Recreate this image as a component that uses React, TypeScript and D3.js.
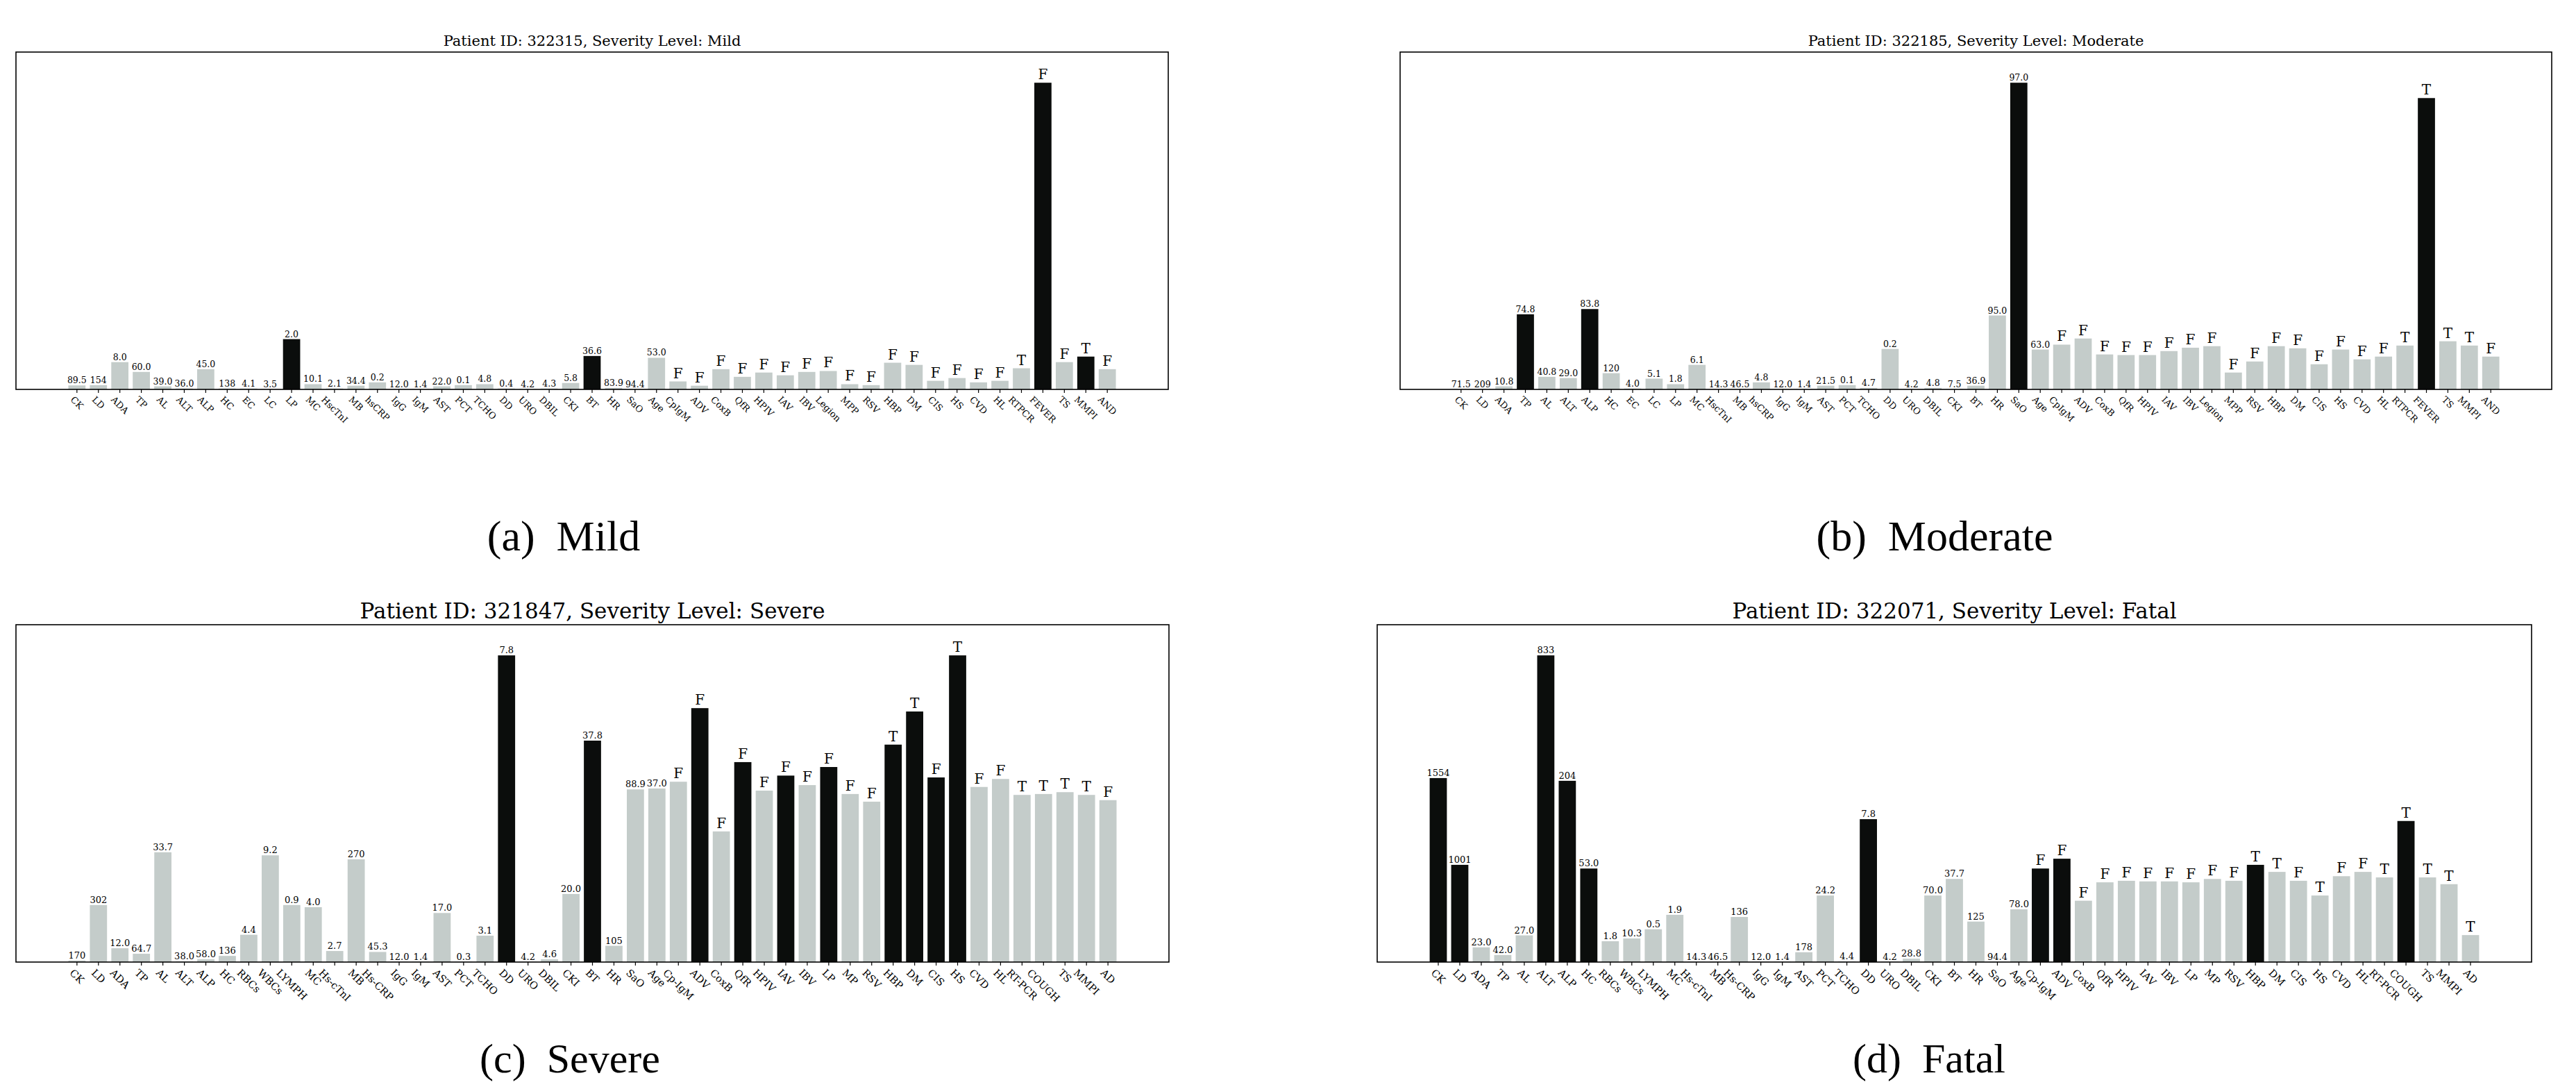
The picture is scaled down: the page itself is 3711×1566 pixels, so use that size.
import React, { useEffect } from 'react';
import * as d3 from 'd3';

const W = 3711;
const H = 1566;

const namesAB = ["CK","LD","ADA","TP","AL","ALT","ALP","HC","EC","LC","LP","MC","HscTnI","MB","hsCRP","IgG","IgM","AST","PCT","TCHO","DD","URO","DBIL","CKI","BT","HR","SaO","Age","CpIgM","ADV","CoxB","QfR","HPIV","IAV","IBV","Legion","MPP","RSV","HBP","DM","CIS","HS","CVD","HL","RTPCR","FEVER","TS","MMPI","AND"];
const namesCD = ["CK","LD","ADA","TP","AL","ALT","ALP","HC","RBCs","WBCs","LYMPH","MC","Hs-cTnI","MB","Hs-CRP","IgG","IgM","AST","PCT","TCHO","DD","URO","DBIL","CKI","BT","HR","SaO","Age","Cp-IgM","ADV","CoxB","QfR","HPIV","IAV","IBV","LP","MP","RSV","HBP","DM","CIS","HS","CVD","HL","RT-PCR","COUGH","TS","MMPI","AD"];

// Mild
const mildHeights = [0.013,0.014,0.089,0.057,0.010,0.003,0.066,0.003,0.003,0.001,0.164,0.017,0.003,0.012,0.023,0.001,0.001,0.010,0.014,0.017,0.003,0.001,0.003,0.021,0.109,0.005,0.001,0.103,0.026,0.012,0.066,0.041,0.055,0.046,0.057,0.060,0.017,0.014,0.087,0.080,0.028,0.037,0.023,0.028,0.069,1.0,0.089,0.107,0.066];
const mildTexts = ["89.5","154","8.0","60.0","39.0","36.0","45.0","138","4.1","3.5","2.0","10.1","2.1","34.4","0.2","12.0","1.4","22.0","0.1","4.8","0.4","4.2","4.3","5.8","36.6","83.9","94.4","53.0","F","F","F","F","F","F","F","F","F","F","F","F","F","F","F","F","T","F","F","T","F"];
const mildDark = [10, 24, 45, 47];

// Moderate
const modHeights = [0.001,0.001,0.010,0.245,0.041,0.037,0.262,0.053,0.003,0.035,0.017,0.080,0.001,0.001,0.023,0.001,0.001,0.012,0.014,0.005,0.132,0.001,0.005,0.001,0.012,0.241,1.0,0.130,0.146,0.166,0.114,0.112,0.112,0.125,0.136,0.141,0.055,0.091,0.141,0.134,0.082,0.130,0.098,0.107,0.143,0.950,0.157,0.143,0.107];
const modTexts = ["71.5","209","10.8","74.8","40.8","29.0","83.8","120","4.0","5.1","1.8","6.1","14.3","46.5","4.8","12.0","1.4","21.5","0.1","4.7","0.2","4.2","4.8","7.5","36.9","95.0","97.0","63.0","F","F","F","F","F","F","F","F","F","F","F","F","F","F","F","F","T","T","T","T","F"];
const modDark = [3, 6, 26, 45];

// Severe
const sevHeights = [0.005,0.186,0.045,0.027,0.358,0.002,0.009,0.020,0.089,0.348,0.186,0.179,0.036,0.335,0.033,0.001,0.001,0.160,0.001,0.086,1.0,0.001,0.009,0.222,0.722,0.053,0.563,0.566,0.588,0.828,0.426,0.652,0.559,0.608,0.577,0.636,0.548,0.523,0.709,0.817,0.602,1.0,0.571,0.597,0.545,0.548,0.554,0.545,0.528];
const sevTexts = ["170","302","12.0","64.7","33.7","38.0","58.0","136","4.4","9.2","0.9","4.0","2.7","270","45.3","12.0","1.4","17.0","0.3","3.1","7.8","4.2","4.6","20.0","37.8","105","88.9","37.0","F","F","F","F","F","F","F","F","F","F","T","T","F","T","F","F","T","T","T","T","F"];
const sevDark = [20, 24, 29, 31, 33, 35, 38, 39, 40, 41];

// Fatal
const fatHeights = [0.600,0.317,0.048,0.023,0.087,1.0,0.591,0.305,0.068,0.077,0.107,0.154,0.001,0.001,0.147,0.001,0.001,0.032,0.217,0.002,0.466,0.001,0.011,0.217,0.271,0.132,0.001,0.172,0.305,0.337,0.200,0.260,0.265,0.263,0.263,0.260,0.271,0.265,0.317,0.294,0.265,0.217,0.280,0.294,0.276,0.460,0.276,0.254,0.088];
const fatTexts = ["1554","1001","23.0","42.0","27.0","833","204","53.0","1.8","10.3","0.5","1.9","14.3","46.5","136","12.0","1.4","178","24.2","4.4","7.8","4.2","28.8","70.0","37.7","125","94.4","78.0","F","F","F","F","F","F","F","F","F","F","T","T","F","T","F","F","T","T","T","T","T"];
const fatDark = [0, 1, 5, 6, 7, 20, 28, 29, 38, 45];

const GREY = '#c4ccca';
const DARK = '#0b0d0c';
const SERIF = '"DejaVu Serif", serif';

let ctx: CanvasRenderingContext2D | null = null;
function measure(text: string, size: number): number {
  if (!ctx) ctx = document.createElement('canvas').getContext('2d');
  if (!ctx) return text.length * size * 0.6;
  ctx.font = `${size}px "DejaVu Serif"`;
  return ctx.measureText(text).width;
}

type Frame = { x: number; y: number; w: number; h: number };

function Panel(props: {
  frame: Frame; names: string[]; heights: number[]; texts: string[]; dark: number[];
  title: string; titleSize: number; numSize: number; flagSize: number; tickSize: number;
  caption: string; capX: number; capY: number; capSize: number;
}) {
  const { frame, names, heights, texts, dark, title, titleSize, numSize, flagSize, tickSize, caption, capX, capY, capSize } = props;
  const n = names.length;
  const margin = 0.05 * (n - 1 + 0.8);
  const x = d3.scaleLinear().domain([-0.4 - margin, n - 1 + 0.4 + margin]).range([frame.x, frame.x + frame.w]);
  const ymax = (d3.max(heights) as number) * 1.1;
  const y = d3.scaleLinear().domain([0, ymax]).range([frame.y + frame.h, frame.y]);
  const axisY = frame.y + frame.h;
  const darkSet = new Set(dark);
  return (
    <g>
      <text x={frame.x + frame.w / 2} y={frame.y - 9} textAnchor="middle" fontFamily={SERIF} fontSize={titleSize} fill="#000">{title}</text>
      {heights.map((h, i) => (
        <rect key={'b' + i} x={x(i - 0.4)} y={y(h)} width={x(i + 0.4) - x(i - 0.4)} height={axisY - y(h)} fill={darkSet.has(i) ? DARK : GREY} />
      ))}
      {texts.map((t, i) => {
        const flag = t === 'T' || t === 'F';
        return (
          <text key={'v' + i} x={x(i)} y={y(heights[i]) - (flag ? 5 : 3)} textAnchor="middle" fontFamily={SERIF} fontSize={flag ? flagSize : numSize} fill="#000">{t}</text>
        );
      })}
      {names.map((nm, i) => (
        <line key={'t' + i} x1={x(i)} x2={x(i)} y1={axisY} y2={axisY + 5} stroke="#000" strokeWidth={1.2} />
      ))}
      {names.map((nm, i) => {
        const w = measure(nm, tickSize);
        const hh = tickSize * 1.16;
        const d = (w + hh) / Math.SQRT2;
        const cy = axisY + 7 + d / 2;
        return (
          <text key={'l' + i} transform={`translate(${x(i)},${cy}) rotate(45)`} textAnchor="middle" dominantBaseline="central" fontFamily={SERIF} fontSize={tickSize} fill="#000">{nm}</text>
        );
      })}
      <rect x={frame.x} y={frame.y} width={frame.w} height={frame.h} fill="none" stroke="#000" strokeWidth={1.6} />
      <text x={capX} y={capY} textAnchor="middle" fontFamily='"Liberation Serif", "Times New Roman", serif' fontSize={capSize} fill="#000" style={{ whiteSpace: 'pre' }}>{caption}</text>
    </g>
  );
}

export default function App() {
  useEffect(() => {
    document.body.style.margin = '0';
    document.body.style.overflow = 'hidden';
  }, []);
  return (
    <svg width={W} height={H} viewBox={`0 0 ${W} ${H}`} style={{ position: 'absolute', left: 0, top: 0, display: 'block', background: '#fff' }}>
      <rect x={0} y={0} width={W} height={H} fill="#fff" />
      <Panel frame={{ x: 23, y: 75, w: 1660, h: 486 }} names={namesAB} heights={mildHeights} texts={mildTexts} dark={mildDark}
        title="Patient ID: 322315, Severity Level: Mild" titleSize={21} numSize={12.5} flagSize={20} tickSize={13}
        caption={"(a)\u00a0\u00a0Mild"} capX={812} capY={793} capSize={62} />
      <Panel frame={{ x: 2017, y: 75, w: 1659, h: 486 }} names={namesAB} heights={modHeights} texts={modTexts} dark={modDark}
        title="Patient ID: 322185, Severity Level: Moderate" titleSize={21} numSize={12.5} flagSize={20} tickSize={13}
        caption={"(b)\u00a0\u00a0Moderate"} capX={2787} capY={793} capSize={62} />
      <Panel frame={{ x: 23, y: 900, w: 1661, h: 486 }} names={namesCD} heights={sevHeights} texts={sevTexts} dark={sevDark}
        title="Patient ID: 321847, Severity Level: Severe" titleSize={31} numSize={13} flagSize={20} tickSize={14.5}
        caption={"(c)\u00a0\u00a0Severe"} capX={821} capY={1545} capSize={60} />
      <Panel frame={{ x: 1984, y: 900, w: 1663, h: 486 }} names={namesCD} heights={fatHeights} texts={fatTexts} dark={fatDark}
        title="Patient ID: 322071, Severity Level: Fatal" titleSize={31} numSize={13} flagSize={20} tickSize={14.5}
        caption={"(d)\u00a0\u00a0Fatal"} capX={2779} capY={1545} capSize={60} />
    </svg>
  );
}
